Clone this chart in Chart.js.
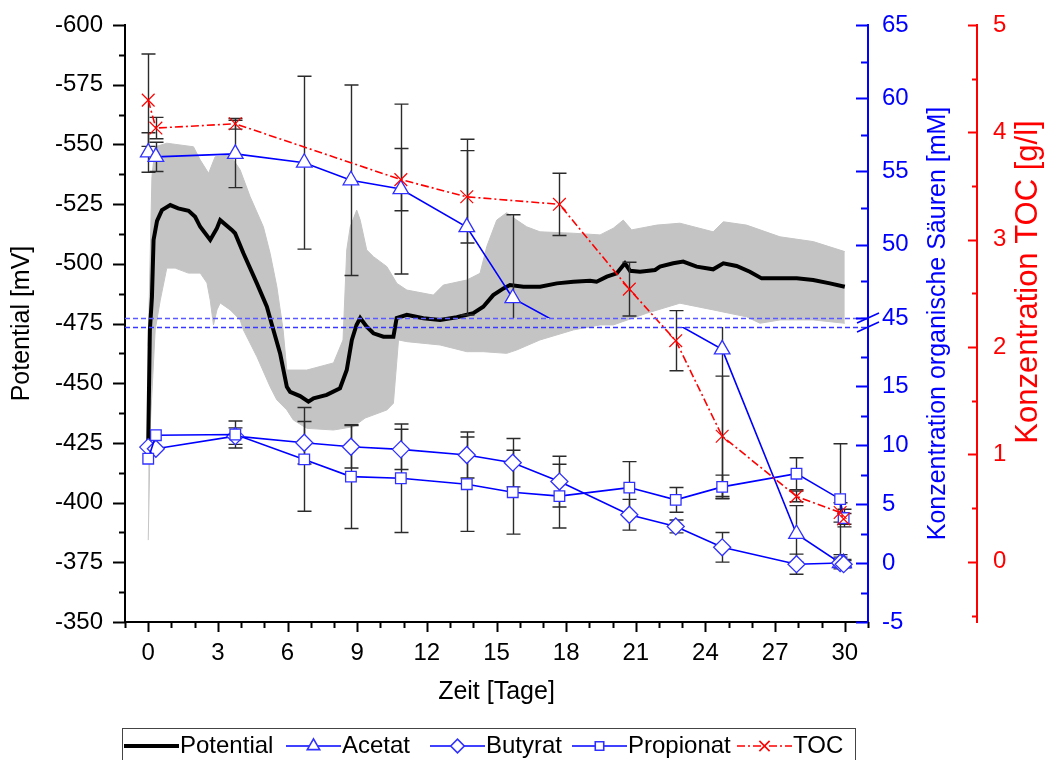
<!DOCTYPE html>
<html>
<head>
<meta charset="utf-8">
<script src="https://cdn.jsdelivr.net/npm/chart.js@4/dist/chart.umd.min.js"></script>
<style>
  html, body { margin: 0; padding: 0; background: #fff; }
</style>
</head>
<body>
<canvas id="chart" width="1046" height="760"></canvas>
<script>
// --- Probenahme (Tage) und Messwerte ---
const sampleDays = [0, 0.33, 3.75, 6.72, 8.73, 10.88, 13.72, 15.7, 17.71, 20.72, 22.72, 24.72, 27.92, 29.8, 29.95];
// Acetat-Werte bei 17.7 bis 22.7 Tagen liegen im Achsbruch (nicht sichtbar, geschaetzt)
const acetat = [56.3, 56.0, 56.2, 55.6, 54.4, 53.8, 51.2, 46.35, 29.5, 30.0, 30.5, 18.1, 2.46, 0, 0];
const acetatErr = [1.35, 1.0, 2.3, 5.9, 6.5, 5.8, 6.0, 5.7, null, null, null, 12.6, 2.4, 0.5, 0.3];
const butyrat = [9.82, 9.68, 10.75, 10.19, 9.85, 9.63, 9.15, 8.5, 6.9, 4.09, 3.1, 1.33, -0.1, 0, -0.1];
const butyratErr = [0, 0, 0.7, 1.8, 1.8, 1.7, 1.95, 2.05, 2.15, 1.3, 0.55, 1.26, 0.85, 0.3, 0.3];
const propionat = [8.84, 10.83, 10.89, 8.78, 7.32, 7.18, 6.68, 6.0, 5.67, 6.39, 5.35, 6.45, 7.57, 5.41, 3.81];
const propionatErr = [0, 0, 1.15, 4.4, 4.4, 4.6, 4.0, 3.55, 2.7, 2.2, 1.05, 1.0, 1.35, 4.7, 0.75];
const toc = [4.30, 4.04, 4.08, null, null, 3.56, 3.40, null, 3.33, 2.54, 2.06, 1.17, 0.61, 0.46, 0.40];
const tocErr = [0.43, 0.10, 0.05, null, null, 0.29, 0.43, null, 0.29, 0.25, 0.28, 0.56, 0.05, 0.09, 0.05];

// Potentialverlauf (Mittelwert) und Streubereich
const potDays = [0, 0.07, 0.16, 0.23, 0.38, 0.59, 0.95, 1.29, 1.74, 2.02, 2.24, 2.67, 2.96, 3.10, 3.60, 3.74, 4.10, 4.68, 5.11, 5.33, 5.68, 5.97, 6.11, 6.54, 6.90, 7.12, 7.69, 8.26, 8.55, 8.77, 8.97, 9.13, 9.41, 9.70, 10.13, 10.56, 10.70, 11.14, 11.85, 12.57, 13.29, 14.00, 14.43, 14.86, 15.30, 15.58, 16.16, 16.88, 17.60, 18.31, 19.03, 19.31, 19.75, 20.18, 20.53, 20.75, 21.18, 21.83, 22.04, 22.61, 23.04, 23.62, 24.33, 24.77, 25.34, 25.91, 26.42, 27.21, 27.93, 28.64, 29.36, 30.00];
const potMV = [-425, -472, -486, -510, -518, -522.5, -524.6, -523.2, -522.2, -519.7, -515.5, -510, -514.9, -518.3, -514.2, -512.8, -504.4, -491.8, -482, -474.4, -462.5, -448.5, -446.4, -444.6, -442.3, -443.7, -445.1, -447.9, -455.5, -468.1, -474.4, -477.3, -473.7, -470.9, -469.5, -469.5, -477.3, -478.6, -477.2, -476.5, -477.6, -479.3, -482, -486.9, -489.7, -491.1, -490.4, -490.4, -491.8, -492.5, -492.9, -492.5, -494.6, -496, -500.2, -497.1, -496.7, -497.4, -498.8, -500.2, -500.9, -498.8, -497.7, -500.2, -499.1, -496.7, -493.9, -493.9, -493.9, -493.2, -491.8, -490.4];
const bandTopDays = [0, 0.16, 0.30, 0.80, 1.95, 2.24, 2.60, 2.88, 3.53, 3.96, 4.39, 4.96, 5.25, 5.54, 5.81, 5.97, 6.83, 7.98, 8.39, 8.55, 8.70, 8.98, 9.13, 9.41, 9.70, 10.28, 10.71, 11.14, 12.28, 12.71, 13.72, 14.29, 14.58, 15.01, 15.44, 15.87, 16.30, 16.87, 18.31, 19.46, 20.03, 20.46, 20.82, 21.90, 22.90, 24.33, 24.77, 25.77, 27.21, 28.64, 30.00];
const bandTopMV = [-465.6, -536.5, -549, -550.5, -549, -543.5, -537.9, -544.8, -545.6, -539.3, -528.1, -515.5, -504.4, -490.4, -472.3, -455.5, -455.5, -458.5, -468.1, -505.8, -515.5, -522.5, -518.3, -505.8, -503, -498.8, -491.8, -489, -486.9, -491.1, -493.2, -496, -507.2, -518.3, -521.4, -518.3, -515.5, -513.4, -512.8, -512.1, -514.9, -518.3, -514.2, -516.2, -517, -513.4, -517.6, -516.2, -511.3, -509.3, -505.1];
const bandBottomDays = [0, 0.10, 0.30, 0.52, 0.80, 1.16, 1.73, 2.24, 2.53, 2.67, 2.81, 2.96, 3.10, 3.53, 3.96, 4.10, 4.68, 5.25, 5.54, 5.97, 6.25, 6.83, 7.98, 8.84, 9.34, 10.28, 10.56, 10.78, 11.14, 12.57, 13.72, 14.43, 15.44, 15.87, 16.87, 18.31, 19.46, 20.03, 21.47, 22.90, 24.33, 25.77, 26.35, 27.21, 28.64, 30.00];
const bandBottomMV = [-384.3, -434.6, -472.3, -484.8, -498.2, -498.2, -496.1, -496.1, -492, -484.8, -474.4, -480.7, -483.6, -480.7, -476.5, -472.3, -461.1, -448.5, -443, -438.8, -434.6, -431.1, -430.4, -431.8, -435.4, -438.8, -441.6, -468.1, -467.4, -466, -463.2, -463.2, -462.5, -463.9, -468.1, -472.3, -474.4, -474.4, -479.3, -483.5, -480.7, -477.8, -475.1, -476.5, -476.5, -475.1];

// Achsenbeschriftungen
const xTicks = [0, 3, 6, 9, 12, 15, 18, 21, 24, 27, 30];
const potTicks = [-600, -575, -550, -525, -500, -475, -450, -425, -400, -375, -350];
const acidTicks = [-5, 0, 5, 10, 15, 45, 50, 55, 60, 65];
const tocTicks = [0, 1, 2, 3, 4, 5];

const FONT = "'Liberation Sans', Arial, sans-serif";
const BLUE = '#0000ff';
const RED = '#ff0000';
Chart.defaults.font.family = FONT;
Chart.defaults.font.size = 24;
Chart.defaults.color = '#000';

// gebrochene Achse fuer die Saeuren: -5..20 unten, 45..65 oben
const acidBreakMap = [[-5, 0], [20, 295 / 597], [45, 304 / 597], [65, 1]];
const BREAK_LOW = 20, BREAK_HIGH = 45;

class BrokenLinearScale extends Chart.LinearScale {
    getPixelForValue(value) {
        if (value === null || value === undefined || isNaN(value)) return NaN;
        const m = acidBreakMap;
        let i = 0;
        while (i < m.length - 2 && value > m[i + 1][0]) i++;
        const f = m[i][1] + (value - m[i][0]) * (m[i + 1][1] - m[i][1]) / (m[i + 1][0] - m[i][0]);
        return this.bottom - f * (this.bottom - this.top);
    }
    getValueForPixel(pixel) {
        const m = acidBreakMap;
        const f = (this.bottom - pixel) / (this.bottom - this.top);
        let i = 0;
        while (i < m.length - 2 && f > m[i + 1][1]) i++;
        return m[i][0] + (f - m[i][1]) * (m[i + 1][0] - m[i][0]) / (m[i + 1][1] - m[i][1]);
    }
}
BrokenLinearScale.id = 'brokenLinear';
BrokenLinearScale.defaults = Chart.LinearScale.defaults;
Chart.register(BrokenLinearScale);

const xy = (days, vals) => days.map((d, i) => ({ x: d, y: vals[i] }));
const inBreak = v => v > BREAK_LOW && v < BREAK_HIGH;

// Clip ohne den Streifen des Achsbruchs
function clipOutsideBreak(chart) {
    const a = chart.chartArea;
    const yc = chart.scales.yC;
    const yHi = yc.getPixelForValue(BREAK_HIGH);
    const yLo = yc.getPixelForValue(BREAK_LOW);
    const ctx = chart.ctx;
    ctx.beginPath();
    ctx.rect(a.left - 12, 0, a.right - a.left + 24, yHi);
    ctx.rect(a.left - 12, yLo, a.right - a.left + 24, chart.height - yLo);
    ctx.clip();
}

const breakClipPlugin = {
    id: 'breakClip',
    beforeDatasetDraw(chart, args) {
        if (chart.data.datasets[args.index].yAxisID !== 'yC') return;
        chart.ctx.save();
        clipOutsideBreak(chart);
    },
    afterDatasetDraw(chart, args) {
        if (chart.data.datasets[args.index].yAxisID !== 'yC') return;
        chart.ctx.restore();
    }
};

// Fehlerbalken, nach der Potentialkurve gezeichnet
const errorSeries = [
    { axis: 'yC', values: acetat, errs: acetatErr },
    { axis: 'yC', values: butyrat, errs: butyratErr },
    { axis: 'yC', values: propionat, errs: propionatErr },
    { axis: 'yT', values: toc, errs: tocErr },
];
const errorBarPlugin = {
    id: 'errorBars',
    afterDatasetDraw(chart, args) {
        if (args.index !== 2) return;
        const ctx = chart.ctx;
        const xs = chart.scales.x;
        const a = chart.chartArea;
        errorSeries.forEach(s => {
            const ys = chart.scales[s.axis];
            ctx.save();
            ctx.beginPath();
            ctx.rect(a.left, a.top, a.right - a.left, a.bottom - a.top);
            ctx.clip();
            if (s.axis === 'yC') clipOutsideBreak(chart);
            ctx.strokeStyle = '#2b2b2b';
            ctx.lineWidth = 1.4;
            s.values.forEach((v, i) => {
                const e = s.errs[i];
                if (v === null || !e) return;
                const px = Math.round(xs.getPixelForValue(sampleDays[i])) + 0.5;
                const top = ys.getPixelForValue(v + e);
                const bot = ys.getPixelForValue(v - e);
                ctx.beginPath();
                ctx.moveTo(px, top); ctx.lineTo(px, bot);
                ctx.moveTo(px - 7, top); ctx.lineTo(px + 7, top);
                ctx.moveTo(px - 7, bot); ctx.lineTo(px + 7, bot);
                ctx.stroke();
            });
            ctx.restore();
        });
    }
};

// Achsbruch (gestrichelte Linien) ueber den Daten
const breakPlugin = {
    id: 'axisBreak',
    afterDatasetsDraw(chart) {
        const ctx = chart.ctx;
        const a = chart.chartArea;
        const yc = chart.scales.yC;
        ctx.save();
        ctx.setLineDash([5, 3]);
        ctx.lineWidth = 1.3;
        [BREAK_HIGH, BREAK_LOW].forEach((v, k) => {
            const y = Math.round(yc.getPixelForValue(v)) + 0.5;
            ctx.strokeStyle = k === 0 ? '#5a5aff' : '#3838ff';
            ctx.beginPath();
            ctx.moveTo(a.left, y);
            ctx.lineTo(a.right, y);
            ctx.stroke();
        });
        ctx.restore();
    }
};

function tickMarks(ctx, scale, values, len, vertical, base, dir) {
    values.forEach(v => {
        const p = Math.round(scale.getPixelForValue(v)) + 0.5;
        ctx.beginPath();
        if (vertical) { ctx.moveTo(base, p); ctx.lineTo(base + dir * len, p); }
        else { ctx.moveTo(p, base); ctx.lineTo(p, base + dir * len); }
        ctx.stroke();
    });
}

function rotatedText(ctx, text, x, y, color) {
    ctx.save();
    ctx.translate(x, y);
    ctx.rotate(-Math.PI / 2);
    ctx.fillStyle = color;
    ctx.textAlign = 'center';
    ctx.textBaseline = 'middle';
    ctx.fillText(text, 0, 0);
    ctx.restore();
}

// Tickmarken, Achsentitel, Bruchzeichen und Legende
const decorPlugin = {
    id: 'decor',
    afterDraw(chart) {
        const ctx = chart.ctx;
        const a = chart.chartArea;
        const s = chart.scales;
        ctx.save();
        ctx.lineWidth = 2;

        // linke Achse, nach aussen
        ctx.strokeStyle = '#000';
        const potMinor = [];
        for (let v = -587.5; v < -350; v += 25) potMinor.push(v);
        tickMarks(ctx, s.yP, potTicks, 12, true, a.left, -1);
        tickMarks(ctx, s.yP, potMinor, 6, true, a.left, -1);

        // x-Achse, nach unten
        const xMinor = [];
        for (let d = -1; d <= 31; d++) if (d % 3 !== 0) xMinor.push(d);
        tickMarks(ctx, s.x, xTicks, 10, false, a.bottom, 1);
        tickMarks(ctx, s.x, xMinor, 6, false, a.bottom, 1);

        // Saeuren-Achse, nach innen
        ctx.strokeStyle = BLUE;
        const acidMinor = [];
        for (let i = 0; i < acidTicks.length - 1; i++) {
            if (acidTicks[i + 1] - acidTicks[i] === 5) acidMinor.push(acidTicks[i] + 2.5);
        }
        acidMinor.push(17.5);
        tickMarks(ctx, s.yC, acidTicks, 12, true, a.right, -1);
        tickMarks(ctx, s.yC, acidMinor, 7, true, a.right, -1);

        // Bruchzeichen auf der Achse
        ctx.lineWidth = 1.6;
        [BREAK_HIGH, BREAK_LOW].forEach(v => {
            const y = s.yC.getPixelForValue(v);
            ctx.beginPath();
            ctx.moveTo(a.right - 11, y + 5);
            ctx.lineTo(a.right + 11, y - 5);
            ctx.stroke();
        });

        // TOC-Achse
        ctx.lineWidth = 2;
        ctx.strokeStyle = RED;
        const tocMinor = [];
        for (let v = -0.5; v < 5; v += 1) tocMinor.push(v);
        tickMarks(ctx, s.yT, tocTicks, 9, true, s.yT.left, -1);
        tickMarks(ctx, s.yT, tocMinor, 5, true, s.yT.left, -1);

        // Achsentitel
        const cy = (a.top + a.bottom) / 2;
        ctx.font = '25px ' + FONT;
        rotatedText(ctx, 'Potential [mV]', 22, cy, '#000');
        rotatedText(ctx, 'Konzentration organische Säuren [mM]', 938, cy, BLUE);
        ctx.font = '31px ' + FONT;
        rotatedText(ctx, 'Konzentration TOC [g/l]', 1028, 282, RED);
        ctx.font = '25px ' + FONT;
        ctx.fillStyle = '#000';
        ctx.textAlign = 'center';
        ctx.textBaseline = 'middle';
        ctx.fillText('Zeit [Tage]', (a.left + a.right) / 2, 692);

        // Legende
        const ly = 746;
        ctx.strokeStyle = '#444';
        ctx.lineWidth = 1;
        ctx.strokeRect(122.5, 728.5, 733, 40);
        const starts = [124, 286, 430, 572, 737];
        ctx.font = '24px ' + FONT;
        chart.data.datasets.filter(d => d.inLegend).forEach((d, k) => {
            const x0 = starts[k];
            ctx.save();
            ctx.strokeStyle = d.borderColor;
            ctx.lineWidth = d.borderWidth;
            ctx.setLineDash(d.borderDash || []);
            ctx.beginPath();
            ctx.moveTo(x0, ly);
            ctx.lineTo(x0 + 55, ly);
            ctx.stroke();
            ctx.setLineDash([]);
            if (d.markerSize) {
                ctx.fillStyle = '#fff';
                ctx.strokeStyle = d.pointBorderColor;
                Chart.helpers.drawPoint(ctx, {
                    pointStyle: d.pointStyle, radius: d.markerSize * 0.8,
                    borderWidth: 1.2, rotation: 0
                }, x0 + 27.5, ly);
            }
            ctx.restore();
            ctx.fillStyle = '#000';
            ctx.textAlign = 'left';
            ctx.textBaseline = 'middle';
            ctx.fillText(d.label, x0 + 56, ly);
        });
        ctx.restore();
    }
};

// feste Achsenbreite, ohne zusaetzlichen Rand fuer die aeusseren Beschriftungen
const axisFit = w => s => { s.width = w; s.paddingTop = 0; s.paddingBottom = 0; };
// Marker im Achsbruch ausblenden
const acidRadius = r => c => (c.raw && inBreak(c.raw.y)) ? 0 : r;

new Chart(document.getElementById('chart'), {
    type: 'line',
    data: {
        datasets: [
            {
                label: 'Streuung oben', data: xy(bandTopDays, bandTopMV), yAxisID: 'yP',
                borderColor: '#c4c4c4', borderWidth: 1, pointRadius: 0, fill: false, order: 20,
            },
            {
                label: 'Streuung unten', data: xy(bandBottomDays, bandBottomMV), yAxisID: 'yP',
                borderColor: '#c4c4c4', borderWidth: 1, pointRadius: 0, fill: 0,
                backgroundColor: '#c4c4c4', order: 19,
            },
            {
                label: 'Potential', data: xy(potDays, potMV), yAxisID: 'yP',
                borderColor: '#000', borderWidth: 4, pointRadius: 0, order: 10, inLegend: true,
            },
            {
                label: 'Acetat', data: xy(sampleDays, acetat), yAxisID: 'yC',
                borderColor: BLUE, borderWidth: 1.6, spanGaps: true,
                pointStyle: 'triangle', pointRadius: acidRadius(9), markerSize: 9,
                pointBorderColor: '#3030ff', pointBackgroundColor: '#fff', pointBorderWidth: 1.3,
                order: 3, inLegend: true,
            },
            {
                label: 'Butyrat', data: xy(sampleDays, butyrat), yAxisID: 'yC',
                borderColor: BLUE, borderWidth: 1.6,
                pointStyle: 'rectRot', pointRadius: acidRadius(8.5), markerSize: 8.5,
                pointBorderColor: '#3030ff', pointBackgroundColor: '#fff', pointBorderWidth: 1.3,
                order: 2, inLegend: true,
            },
            {
                label: 'Propionat', data: xy(sampleDays, propionat), yAxisID: 'yC',
                borderColor: BLUE, borderWidth: 1.6,
                pointStyle: 'rect', pointRadius: acidRadius(7.5), markerSize: 7.5,
                pointBorderColor: '#3030ff', pointBackgroundColor: '#fff', pointBorderWidth: 1.3,
                order: 1, inLegend: true,
            },
            {
                label: 'TOC', data: xy(sampleDays, toc), yAxisID: 'yT',
                borderColor: RED, borderWidth: 1.6, borderDash: [8, 3, 2, 3], spanGaps: true,
                pointStyle: 'crossRot', pointRadius: 9, markerSize: 9, pointBorderColor: RED,
                pointBorderWidth: 1.2, order: 0, inLegend: true,
            },
        ],
    },
    options: {
        responsive: false,
        animation: false,
        events: [],
        elements: { line: { tension: 0 } },
        layout: { padding: { top: 25, bottom: 0, left: 0, right: 0 } },
        plugins: { legend: { display: false }, tooltip: { enabled: false } },
        scales: {
            x: {
                type: 'linear', position: 'bottom', min: -1, max: 31,
                afterBuildTicks: s => { s.ticks = xTicks.map(v => ({ value: v })); },
                afterFit: s => { s.height = 138; },
                grid: { display: false, drawTicks: false },
                border: { color: '#000', width: 2 },
                ticks: { padding: 17, maxRotation: 0, autoSkip: false, callback: v => String(v) },
            },
            yP: {
                type: 'linear', position: 'left', min: -600, max: -350, reverse: true,
                afterBuildTicks: s => { s.ticks = potTicks.map(v => ({ value: v })); },
                afterFit: axisFit(125),
                grid: { display: false, drawTicks: false },
                border: { color: '#000', width: 2 },
                ticks: { padding: 22, autoSkip: false, callback: v => String(v) },
            },
            yC: {
                type: 'brokenLinear', position: 'right', min: -5, max: 65,
                afterBuildTicks: s => { s.ticks = acidTicks.map(v => ({ value: v })); },
                afterFit: axisFit(109),
                grid: { display: false, drawTicks: false },
                border: { color: BLUE, width: 2 },
                ticks: { padding: 14, autoSkip: false, color: BLUE, callback: v => String(v) },
            },
            yT: {
                type: 'linear', position: 'right', min: -0.56, max: 5,
                afterBuildTicks: s => { s.ticks = tocTicks.map(v => ({ value: v })); },
                afterFit: axisFit(69),
                grid: { display: false, drawTicks: false },
                border: { color: RED, width: 2 },
                ticks: { padding: 16, autoSkip: false, color: RED, callback: v => String(v) },
            },
        },
    },
    plugins: [breakClipPlugin, errorBarPlugin, breakPlugin, decorPlugin],
});
</script>
</body>
</html>
